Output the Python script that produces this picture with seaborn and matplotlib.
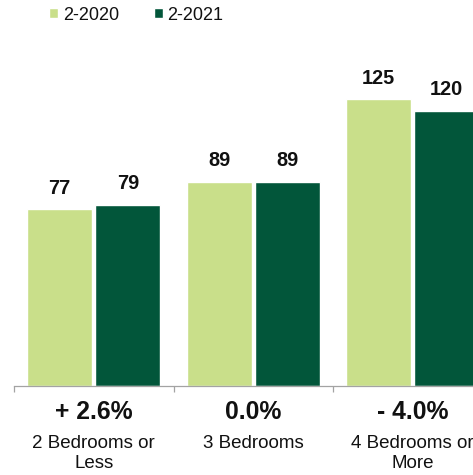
import matplotlib
matplotlib.use("Agg")
import matplotlib.pyplot as plt
import matplotlib.transforms as mtransforms
import pandas as pd
import seaborn as sns

# Median home size values by bedroom count
categories = ["2 Bedrooms or\nLess", "3 Bedrooms", "4 Bedrooms or\nMore"]
series_names = ["2-2020", "2-2021"]
values_2020 = [77, 89, 125]
values_2021 = [79, 89, 120]
changes = ["+ 2.6%", "0.0%", "- 4.0%"]

colors = ["#C9DF8A", "#02563A"]
text_color = "#111111"
axis_color = "#A3A3A3"

df = pd.DataFrame({
    "category": categories * 2,
    "period": [series_names[0]] * len(categories) + [series_names[1]] * len(categories),
    "value": values_2020 + values_2021,
})

sns.set_style("white")
plt.rcParams["font.family"] = ["Liberation Sans", "DejaVu Sans"]

W, H = 473, 475
fig = plt.figure(figsize=(W / 100, H / 100), dpi=100)
ax = fig.add_axes([14 / W, (H - 386) / H, (W - 14) / W, 346 / H])

sns.barplot(data=df, x="category", y="value", hue="period", order=categories,
            hue_order=series_names, palette=colors, width=0.853, gap=0.044,
            saturation=1, ax=ax)

# Axis styling: only the baseline with small ticks between groups
for side in ["top", "left", "right"]:
    ax.spines[side].set_visible(False)
ax.spines["bottom"].set_color(axis_color)
ax.spines["bottom"].set_linewidth(0.9)
ax.set_yticks([])
ax.set_xticks([-0.5, 0.5, 1.5])
ax.set_xticklabels([])
ax.tick_params(axis="x", bottom=True, direction="out", length=4.3, width=0.9,
               color=axis_color)
ax.set_xlabel("")
ax.set_ylabel("")

ax.set_xlim(-0.5, -0.5 + (W - 14) / 159.5)
ax.set_ylim(0, 346 / 2.295)

# Value labels above each bar
for container in ax.containers:
    for bar in container:
        h = bar.get_height()
        ax.annotate(f"{h:.0f}", (bar.get_x() + bar.get_width() / 2, h),
                    xytext=(0, 15.5), textcoords="offset pixels",
                    ha="center", va="baseline", fontsize=14.3, fontweight="bold",
                    color=text_color)

# Change labels and category names under the axis
trans = mtransforms.blended_transform_factory(ax.transData, ax.transAxes)
for i, (cat, chg) in enumerate(zip(categories, changes)):
    ax.annotate(chg, (i, 0), xycoords=trans, xytext=(0, -33.3),
                textcoords="offset pixels", ha="center", va="baseline",
                fontsize=17.8, fontweight="bold", color=text_color,
                annotation_clip=False)
    ax.annotate(cat, (i, 0), xycoords=trans, xytext=(0, -49),
                textcoords="offset pixels", ha="center", va="top",
                fontsize=13.5, color=text_color, linespacing=1.2,
                multialignment="center", annotation_clip=False)

handles, labels = ax.get_legend_handles_labels()
ax.legend(handles, labels, loc="center left", bbox_to_anchor=(49.3 / W, 1 - 15 / H),
          bbox_transform=fig.transFigure, ncol=2, frameon=False, fontsize=13,
          handlelength=0.5, handleheight=0.5, handletextpad=0.24,
          columnspacing=1.94, borderpad=0, borderaxespad=0, labelcolor=text_color)

fig.savefig("out.png", dpi=100)
